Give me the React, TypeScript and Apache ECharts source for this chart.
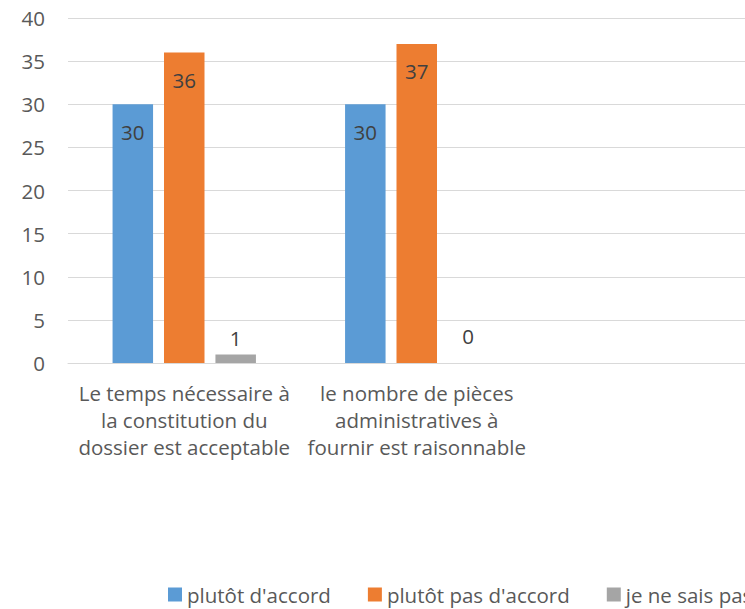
import React, { useEffect, useRef } from "react";
import * as echarts from "echarts";

const categories = [
  "Le temps nécessaire à\nla constitution du\ndossier est acceptable",
  "le nombre de pièces\nadministratives à\nfournir est raisonnable",
  "",
];
const seriesNames = ["plutôt d'accord", "plutôt pas d'accord", "je ne sais pas"];
const accord = [30, 30, null];
const pasAccord = [36, 37, null];
const neSaisPas = [1, 0, null];
const yTicks = { min: 0, max: 40, interval: 5 };

const colors = ["#5B9BD5", "#ED7D31", "#A5A5A5"];
const FONT = "Open Sans";
const FS = 20.5;

export default function App() {
  const ref = useRef<HTMLDivElement>(null);
  useEffect(() => {
    if (!ref.current) return;
    const chart = echarts.init(ref.current, null, { renderer: "svg" });
    const inside = {
      show: true,
      position: "insideTop",
      distance: 17,
      color: "#404040",
      fontSize: FS,
      fontFamily: FONT,
    };
    const outside = {
      show: true,
      position: "top",
      distance: 6,
      color: "#404040",
      fontSize: FS,
      fontFamily: FONT,
    };
    const values = [accord, pasAccord, neSaisPas];
    chart.setOption({
      animation: false,
      textStyle: { fontFamily: FONT },
      grid: { left: 68, top: 18, width: 697.5, height: 345, containLabel: false },
      legend: {
        left: 168,
        top: 584,
        padding: 0,
        itemWidth: 14,
        itemHeight: 14,
        itemGap: 37,
        icon: "rect",
        textStyle: { fontSize: FS, color: "#595959", fontFamily: FONT },
        data: seriesNames,
      },
      xAxis: {
        type: "category",
        data: categories,
        axisLine: { show: true, lineStyle: { color: "#d9d9d9", width: 1 } },
        axisTick: { show: false },
        axisLabel: {
          interval: 0,
          color: "#595959",
          fontSize: FS,
          fontFamily: FONT,
          lineHeight: 27,
          margin: 16,
        },
      },
      yAxis: {
        type: "value",
        min: yTicks.min,
        max: yTicks.max,
        interval: yTicks.interval,
        axisLine: { show: false },
        axisTick: { show: false },
        axisLabel: { color: "#595959", fontSize: FS, fontFamily: FONT, margin: 23 },
        splitLine: { lineStyle: { color: "#d9d9d9", width: 1 } },
      },
      series: seriesNames.map((name, i) => ({
        name,
        type: "bar",
        data: values[i].map((v) =>
          i === 2 && v === 0 ? { value: v, label: { distance: 17 } } : v
        ),
        barWidth: 40.5,
        barGap: "27%",
        itemStyle: { color: colors[i] },
        label: i === 2 ? outside : inside,
      })),
    });
    return () => chart.dispose();
  }, []);
  return (
    <div
      style={{ position: "absolute", left: 0, top: 0, width: 745, height: 609, overflow: "hidden", background: "#fff" }}
    >
      <div ref={ref} style={{ width: 900, height: 609 }} />
    </div>
  );
}
